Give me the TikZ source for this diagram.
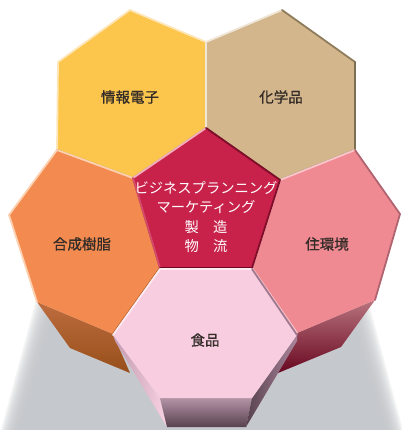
\documentclass[tikz,border=0pt]{standalone}
\usepackage{fontspec}
\newfontfamily\jp{Noto Sans CJK JP}
\newfontfamily\jpb[FakeBold=0.9]{Noto Sans CJK JP}
\usetikzlibrary{calc}
\definecolor{shd}{HTML}{C1C4C8}
\definecolor{yel}{HTML}{FCC64C}
\definecolor{yelL}{HTML}{FEE6B8}
\definecolor{yelD}{HTML}{B8A06A}
\definecolor{tan}{HTML}{D4B68C}
\definecolor{tanL}{HTML}{F0E6D8}
\definecolor{tanD}{HTML}{7C6E50}
\definecolor{cri}{HTML}{C8214A}
\definecolor{criL}{HTML}{F2AEBC}
\definecolor{criD}{HTML}{6E0822}
\definecolor{ora}{HTML}{F38B50}
\definecolor{oraL}{HTML}{FDD0B0}
\definecolor{oraD}{HTML}{A8581E}
\definecolor{pnk}{HTML}{F08A92}
\definecolor{pnkL}{HTML}{F9C6CC}
\definecolor{pnkD}{HTML}{B06470}
\definecolor{fod}{HTML}{F8CDE0}
\definecolor{fodL}{HTML}{FDEAF3}
\definecolor{fodD}{HTML}{A07890}
\definecolor{txt}{HTML}{332C28}
\tikzset{
  lbl/.style={font=\jpb\fontsize{14.5}{17}\selectfont, text=txt, inner sep=0pt},
  ctr/.style={font=\jp\fontsize{14.3}{19.5}\selectfont, text=white, align=center, inner sep=0pt},
  hi/.style={line width=1.8pt, line cap=round, line join=round},
}
\begin{document}
\begin{tikzpicture}[x=1pt,y=-1pt]
\useasboundingbox (0,0) rectangle (402,430);
\begin{scope}
\clip (0,0) rectangle (402,430);
% soft shadow
\foreach \d in {-9,-7.5,...,7.5}{
  \fill[shd, opacity=0.2] ({48+\d},{298+\d}) -- ({356-\d},{298+\d}) -- ({398-\d},445) -- ({6+\d},445) -- cycle;
}
\end{scope}
% coordinates
\coordinate (Y1) at (130,10); \coordinate (Y2) at (206,42); \coordinate (Y3) at (206,128);
\coordinate (Y4) at (133,178); \coordinate (Y5) at (57,150); \coordinate (Y6) at (58,62);
\coordinate (T1) at (282,10); \coordinate (T2) at (355,62); \coordinate (T3) at (355,150);
\coordinate (T4) at (280,180); \coordinate (T5) at (206,128); \coordinate (T6) at (206,42);
\coordinate (P1) at (206,128); \coordinate (P2) at (280,180); \coordinate (P3) at (252,268);
\coordinate (P4) at (160,268); \coordinate (P5) at (133,178);
\coordinate (O1) at (57,150); \coordinate (O2) at (133,178); \coordinate (O3) at (160,268);
\coordinate (O4) at (113,334); \coordinate (O5) at (37,302); \coordinate (O6) at (9,215);
\coordinate (O7) at (130,373); \coordinate (O8) at (70,348);
\coordinate (K1) at (355,150); \coordinate (K2) at (400,214); \coordinate (K3) at (375,300);
\coordinate (K4) at (297,333); \coordinate (K5) at (252,268); \coordinate (K6) at (280,180);
\coordinate (K7) at (278,373); \coordinate (K8) at (341,347);
\coordinate (F1) at (160,269); \coordinate (F2) at (252,269); \coordinate (F3) at (297,335);
\coordinate (F4) at (252,398); \coordinate (F5) at (160,398); \coordinate (F6) at (113,335);
\coordinate (F7) at (246,427); \coordinate (F8) at (167,427);
\coordinate (F9) at (115,341); \coordinate (F10) at (297,341);
% yellow
\fill[yel] (Y1)--(Y2)--(Y3)--(Y4)--(Y5)--(Y6)--cycle;
\draw[hi, yelL] (Y5)--(Y6)--(Y1)--(Y2);
\draw[hi, yelD] (Y3)--(Y4)--(Y5);
% tan
\fill[tan] (T1)--(T2)--(T3)--(T4)--(T5)--(T6)--cycle;
\draw[hi, tanL] (T5)--(T6)--(T1);
\draw[hi, tanD!80!tan] (T1)--(T2);
\draw[hi, tanD] (T2)--(T3)--(T4)--(T5);
% orange side + face
\shade[top color=ora!78!black, bottom color=oraD!90!black] (O5)--(O4)--(O7)--(O8)--cycle;
\fill[ora] (O1)--(O2)--(O3)--(O4)--(O5)--(O6)--cycle;
\draw[hi, oraL] (O5)--(O6)--(O1)--(O2);
\draw[hi, oraD] (O2)--(O3)--(O4);
% pink side + face
\shade[top color=pnkD!90!white, bottom color=criD!95!black] (K3)--(K4)--(K7)--(K8)--cycle;
\fill[pnk] (K1)--(K2)--(K3)--(K4)--(K5)--(K6)--cycle;
\draw[hi, pnkL] (K4)--(K5)--(K6)--(K1);
\draw[hi, pnkD] (K1)--(K2)--(K3);
% pentagon
\fill[cri] (P1)--(P2)--(P3)--(P4)--(P5)--cycle;
\draw[hi, criL] (P5)--(P1);
\draw[hi, cri!70!criL] (P4)--(P5);
\draw[hi, criD!80!cri] (P1)--(P2)--(P3);
\draw[hi, criD] (P3)--(P4);
% food sides
\shade[left color=fodD!60!fod, right color=fod!90!white] (F6)--(F5)--(F8)--(F9)--cycle;
\shade[top color=fodD!80!white, bottom color=fodD!55!black] (F5)--(F4)--(F7)--(F8)--cycle;
\shade[left color=fodD!55!black, right color=fodD!90!white] (F3)--(F4)--(F7)--(F10)--cycle;
\fill[fod] (F1)--(F2)--(F3)--(F4)--(F5)--(F6)--cycle;
\draw[hi, fodL] (F6)--(F1)--(F2);
\draw[hi, fodD] (F2)--(F3);
% labels
\node[lbl] (l1) at (130,97) {情報電子};
\node[lbl] (l2) at (281,97) {化学品};
\node[lbl] (l3) at (82,244) {合成樹脂};
\node[lbl] (l4) at (327,244) {住環境};
\node[lbl] (l5) at (205,340) {食品};
\node[ctr] (c) at (206,217) {ビジネスプランニング\\マーケティング\\製　造\\物　流};
\end{tikzpicture}
\end{document}
